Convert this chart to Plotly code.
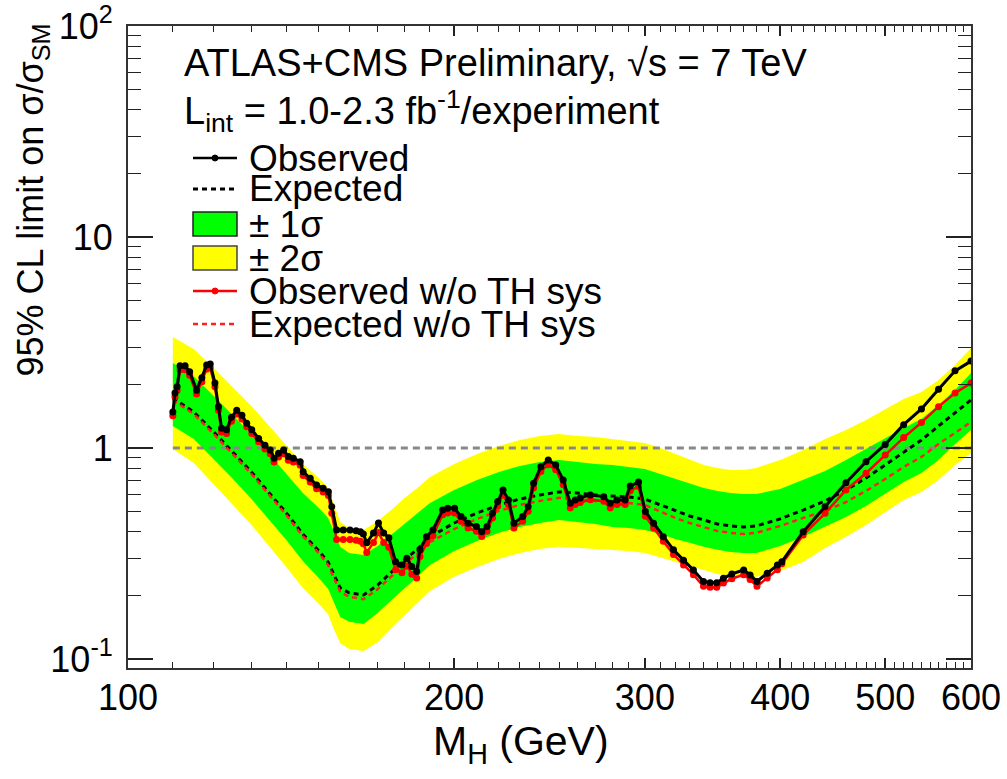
import numpy as np
import plotly.graph_objects as go

# ---------------- data ----------------
mass = [110, 115, 120, 125, 130, 135, 140, 145, 150,
        153, 155, 157, 160, 165, 170, 175, 180, 185, 190,
        200, 210, 220, 230, 240, 250, 260, 270, 280, 290, 300,
        310, 320, 330, 340, 350, 360, 370, 380,
        400, 420, 440, 460, 480, 500, 520, 540, 560, 580, 600]

expected = [1.726, 1.481, 1.191, 0.957, 0.770, 0.612, 0.492, 0.391, 0.325,
            0.288, 0.250, 0.217, 0.206, 0.201, 0.224, 0.258, 0.295, 0.332, 0.379,
            0.441, 0.492, 0.537, 0.573, 0.599, 0.619, 0.612, 0.599, 0.592, 0.586, 0.573,
            0.537, 0.503, 0.476, 0.456, 0.436, 0.427, 0.422, 0.427,
            0.461, 0.508, 0.561, 0.632, 0.721, 0.831, 0.957, 1.091, 1.271, 1.465, 1.689]

expected_noth = [1.688, 1.448, 1.165, 0.936, 0.753, 0.599, 0.481, 0.382, 0.318,
                 0.279, 0.239, 0.208, 0.197, 0.192, 0.214, 0.247, 0.282, 0.315, 0.358,
                 0.413, 0.461, 0.503, 0.537, 0.561, 0.580, 0.573, 0.561, 0.555, 0.549, 0.537,
                 0.499, 0.466, 0.441, 0.423, 0.404, 0.396, 0.391, 0.396,
                 0.427, 0.466, 0.503, 0.554, 0.626, 0.713, 0.812, 0.907, 1.045, 1.178, 1.329]

band1_hi = [2.53, 2.19, 1.764, 1.434, 1.165, 0.937, 0.753, 0.612, 0.520,
            0.466, 0.400, 0.340, 0.318, 0.311, 0.343, 0.387, 0.436, 0.487, 0.549,
            0.632, 0.705, 0.770, 0.822, 0.858, 0.877, 0.858, 0.840, 0.831, 0.813, 0.795,
            0.753, 0.713, 0.675, 0.646, 0.626, 0.612, 0.605, 0.605,
            0.639, 0.705, 0.778, 0.877, 0.989, 1.115, 1.244, 1.372, 1.599, 1.883, 2.267]

band1_lo = [1.271, 1.103, 0.887, 0.713, 0.573, 0.456, 0.366, 0.291, 0.242,
            0.215, 0.184, 0.158, 0.150, 0.1465, 0.165, 0.190, 0.217, 0.245, 0.279,
            0.325, 0.362, 0.396, 0.422, 0.441, 0.456, 0.446, 0.436, 0.422, 0.418, 0.409,
            0.391, 0.370, 0.355, 0.340, 0.329, 0.321, 0.318, 0.318,
            0.343, 0.379, 0.422, 0.471, 0.531, 0.605, 0.690, 0.761, 0.877, 1.044, 1.217]

band2_hi = [3.36, 2.945, 2.394, 1.946, 1.582, 1.271, 1.033, 0.840, 0.721,
            0.646, 0.537, 0.446, 0.418, 0.409, 0.451, 0.508, 0.579, 0.646, 0.729,
            0.840, 0.937, 1.022, 1.091, 1.140, 1.165, 1.140, 1.127, 1.103, 1.079, 1.056,
            1.000, 0.937, 0.877, 0.831, 0.804, 0.787, 0.787, 0.804,
            0.877, 0.978, 1.103, 1.217, 1.358, 1.530, 1.707, 1.842, 2.101, 2.474, 2.978]

band2_lo = [0.989, 0.849, 0.675, 0.537, 0.432, 0.343, 0.273, 0.217, 0.182,
            0.163, 0.137, 0.119, 0.1115, 0.109, 0.120, 0.140, 0.1616, 0.184, 0.210,
            0.245, 0.273, 0.298, 0.318, 0.332, 0.340, 0.336, 0.332, 0.329, 0.325, 0.318,
            0.304, 0.288, 0.276, 0.264, 0.253, 0.245, 0.242, 0.245,
            0.261, 0.288, 0.336, 0.379, 0.432, 0.497, 0.567, 0.619, 0.705, 0.831, 0.947]

obs_mass = [110.0, 110.5, 111.0, 111.7, 112.9, 114.0, 115.7, 117.0, 118.2, 119.1,
            120.3, 121.2, 122.0, 123.3, 124.6, 126.0, 127.4, 128.7, 130.1, 132.0,
            133.8, 135.3, 136.4, 137.7, 139.2, 140.6, 142.1, 144.2, 145.1, 147.3,
            149.3, 151.4, 153.1, 154.2, 155.8, 158.0, 160.3, 162.4, 163.9, 164.9,
            166.1, 168.5, 170.3, 172.2, 174.1, 176.6, 179.0, 180.9, 182.8, 184.7,
            186.0, 188.6, 191.2, 195.2, 197.3, 200.2, 203.0, 206.0, 209.7, 212.1,
            214.5, 217.0, 219.4, 221.9, 224.5, 227.1, 231.4, 234.1, 236.8, 240.5,
            244.3, 248.2, 252.2, 256.0, 258.7, 261.5, 267.2, 274.9, 278.7, 282.7,
            287.7, 290.8, 296.0, 300.3, 305.6, 312.0, 318.8, 325.7, 332.6, 339.8,
            344.6, 349.5, 354.5, 360.9, 370.1, 375.2, 380.7, 389.1, 397.6, 401.4,
            420.0, 440.0, 460.0, 480.0, 500.0, 520.0, 540.0, 560.0, 580.0, 600.0]

observed = [1.48, 1.82, 1.95, 2.45, 2.45, 2.30, 1.88, 2.15, 2.47, 2.50,
            2.03, 1.57, 1.24, 1.22, 1.40, 1.51, 1.43, 1.31, 1.22, 1.11,
            1.03, 0.978, 0.894, 0.944, 0.978, 0.910, 0.894, 0.861, 0.772, 0.718,
            0.668, 0.644, 0.620, 0.527, 0.409, 0.409, 0.409, 0.405, 0.401, 0.391,
            0.355, 0.395, 0.441, 0.395, 0.375, 0.289, 0.279, 0.300, 0.274, 0.260,
            0.329, 0.380, 0.409, 0.508, 0.518, 0.518, 0.473, 0.440, 0.424, 0.401,
            0.424, 0.490, 0.557, 0.632, 0.567, 0.440, 0.473, 0.527, 0.680, 0.815,
            0.877, 0.831, 0.705, 0.547, 0.567, 0.580, 0.599, 0.588, 0.547, 0.567,
            0.567, 0.660, 0.690, 0.500, 0.440, 0.380, 0.329, 0.294, 0.264, 0.233,
            0.230, 0.230, 0.241, 0.253, 0.264, 0.250, 0.233, 0.255, 0.279, 0.289,
            0.401, 0.527, 0.685, 0.861, 1.04, 1.29, 1.53, 1.90, 2.32, 2.58]

observed_noth = [1.42, 1.75, 1.87, 2.35, 2.35, 2.21, 1.80, 2.06, 2.37, 2.40,
                 1.95, 1.51, 1.19, 1.17, 1.34, 1.45, 1.37, 1.26, 1.17, 1.07,
                 0.99, 0.939, 0.858, 0.906, 0.939, 0.874, 0.858, 0.827, 0.741, 0.689,
                 0.641, 0.618, 0.595, 0.490, 0.368, 0.368, 0.368, 0.365, 0.361, 0.352,
                 0.320, 0.356, 0.397, 0.356, 0.338, 0.265, 0.256, 0.276, 0.252, 0.242,
                 0.306, 0.353, 0.384, 0.483, 0.492, 0.492, 0.449, 0.418, 0.403, 0.381,
                 0.403, 0.466, 0.529, 0.600, 0.539, 0.418, 0.449, 0.501, 0.646, 0.774,
                 0.833, 0.789, 0.670, 0.520, 0.539, 0.551, 0.569, 0.559, 0.520, 0.539,
                 0.539, 0.627, 0.656, 0.475, 0.418, 0.361, 0.313, 0.279, 0.251, 0.221,
                 0.219, 0.219, 0.229, 0.240, 0.251, 0.238, 0.221, 0.242, 0.265, 0.283,
                 0.387, 0.490, 0.632, 0.759, 0.926, 1.12, 1.32, 1.57, 1.82, 2.03]

unity_x = [110, 600]
unity_y = [1, 1]

x_major = [100, 200, 300, 400, 500, 600]
x_labels = ["100", "200", "300", "400", "500", "600"]
y_major = [0.1, 1, 10, 100]
y_labels = ["10<sup>-1</sup>", "1", "10", "10<sup>2</sup>"]

# ---------------- figure ----------------
FONT = "Liberation Sans, Arial, Helvetica, sans-serif"
W, H = 1007, 779
L, R, T, B = 128, 971, 26, 668


def px(x):
    return (x - L) / (R - L)


def py(y):
    return (B - y) / (B - T)


fig = go.Figure()

fig.add_trace(go.Scatter(x=mass + mass[::-1], y=band2_hi + band2_lo[::-1],
                         fill="toself", fillcolor="#FFFF00", mode="lines",
                         line=dict(width=0), name="± 2σ", hoverinfo="skip"))
fig.add_trace(go.Scatter(x=mass + mass[::-1], y=band1_hi + band1_lo[::-1],
                         fill="toself", fillcolor="#00FF00", mode="lines",
                         line=dict(width=0), name="± 1σ", hoverinfo="skip"))
fig.add_trace(go.Scatter(x=unity_x, y=unity_y, mode="lines",
                         line=dict(color="#888888", width=3, dash="7px,5px"),
                         name="SM", hoverinfo="skip"))
fig.add_trace(go.Scatter(x=mass, y=expected, mode="lines",
                         line=dict(color="black", width=3, dash="5px,4px"),
                         name="Expected"))
fig.add_trace(go.Scatter(x=mass, y=expected_noth, mode="lines",
                         line=dict(color="#FF2020", width=2.5, dash="5px,4px"),
                         name="Expected w/o TH sys"))
fig.add_trace(go.Scatter(x=obs_mass, y=observed_noth, mode="lines+markers",
                         line=dict(color="#FF0000", width=2.5),
                         marker=dict(color="#FF0000", size=7),
                         name="Observed w/o TH sys"))
fig.add_trace(go.Scatter(x=obs_mass, y=observed, mode="lines+markers",
                         line=dict(color="black", width=3),
                         marker=dict(color="black", size=7),
                         name="Observed"))

x_minor = [m for m in range(110, 600, 10) if m % 100 != 0]
y_minor = [k * 10.0 ** e for e in (-1, 0, 1) for k in range(2, 10)]

axis_common = dict(showline=True, linewidth=2, linecolor="#333333", mirror="allticks",
                   showgrid=False, zeroline=False, ticks="inside", tickcolor="#222222",
                   automargin=False,
                   tickfont=dict(family=FONT, size=36, color="black"))

fig.update_layout(
    width=W, height=H,
    margin=dict(l=L, r=W - R, t=T, b=H - B, pad=0, autoexpand=False),
    paper_bgcolor="white", plot_bgcolor="white",
    showlegend=False,
    font=dict(family=FONT, color="black"),
    xaxis=dict(type="log", range=[2, np.log10(600)], tickmode="array",
               tickvals=x_major, ticktext=x_labels, ticklen=10, tickwidth=1.5,
               minor=dict(tickvals=x_minor, ticklen=6, tickwidth=1.2,
                          tickcolor="#222222", ticks="inside", showgrid=False),
               ticklabelstandoff=-3, **axis_common),
    yaxis=dict(type="log", range=[np.log10(0.0906), 2], tickmode="array",
               tickvals=y_major, ticktext=y_labels, ticklen=25, tickwidth=1.5,
               minor=dict(tickvals=y_minor, ticklen=13, tickwidth=1.2,
                          tickcolor="#222222", ticks="inside", showgrid=False),
               ticklabelstandoff=6, **axis_common),
)

ann = []
# axis titles
ann.append(dict(text="95% CL limit on σ/σ<sub>SM</sub>", textangle=-90,
                x=px(32), y=py(22), xref="paper", yref="paper",
                xanchor="center", yanchor="top", showarrow=False,
                font=dict(family=FONT, size=36, color="black")))
ann.append(dict(text="M<sub>H</sub> (GeV)", x=px(521), y=py(744),
                xref="paper", yref="paper", xanchor="center", yanchor="middle",
                showarrow=False, font=dict(family=FONT, size=41, color="black")))
# header texts
ann.append(dict(text="ATLAS+CMS Preliminary, √s = 7 TeV", x=px(182), y=py(63),
                xref="paper", yref="paper", xanchor="left", yanchor="middle",
                showarrow=False, font=dict(family=FONT, size=38, color="black")))
ann.append(dict(text="L<sub>int</sub> = 1.0-2.3 fb<sup>-1</sup>/experiment",
                x=px(182), y=py(111), xref="paper", yref="paper",
                xanchor="left", yanchor="middle", showarrow=False,
                font=dict(family=FONT, size=38, color="black")))

# manual legend
rows = [158, 189, 224, 258, 291, 324]
labels = ["Observed", "Expected", "± 1σ", "± 2σ", "Observed w/o TH sys", "Expected w/o TH sys"]
for yy, lab in zip(rows, labels):
    ann.append(dict(text=lab, x=px(247), y=py(yy), xref="paper", yref="paper",
                    xanchor="left", yanchor="middle", showarrow=False,
                    font=dict(family=FONT, size=37, color="black")))

shapes = []
x0, x1 = px(193), px(237)
shapes.append(dict(type="line", xref="paper", yref="paper", x0=x0, x1=x1,
                   y0=py(rows[0]), y1=py(rows[0]), line=dict(color="black", width=2.5)))
shapes.append(dict(type="line", xref="paper", yref="paper", x0=x0, x1=x1,
                   y0=py(rows[1]), y1=py(rows[1]),
                   line=dict(color="black", width=3, dash="5px,4px")))
shapes.append(dict(type="rect", xref="paper", yref="paper", x0=x0, x1=x1,
                   y0=py(rows[2] - 12), y1=py(rows[2] + 12), fillcolor="#00FF00",
                   line=dict(color="#222222", width=1.5)))
shapes.append(dict(type="rect", xref="paper", yref="paper", x0=x0, x1=x1,
                   y0=py(rows[3] - 12), y1=py(rows[3] + 12), fillcolor="#FFFF00",
                   line=dict(color="#444444", width=1.5)))
shapes.append(dict(type="line", xref="paper", yref="paper", x0=x0, x1=x1,
                   y0=py(rows[4]), y1=py(rows[4]), line=dict(color="#FF0000", width=2.5)))
shapes.append(dict(type="line", xref="paper", yref="paper", x0=x0, x1=x1,
                   y0=py(rows[5]), y1=py(rows[5]),
                   line=dict(color="#FF2020", width=2.5, dash="5px,4px")))
for yy, col in ((rows[0], "black"), (rows[4], "#FF0000")):
    shapes.append(dict(type="circle", xref="paper", yref="paper",
                       x0=px(215 - 3), x1=px(215 + 3), y0=py(yy - 3), y1=py(yy + 3),
                       fillcolor=col, line=dict(color=col, width=1)))

fig.update_layout(annotations=ann, shapes=shapes)

fig.write_html("out.html")
